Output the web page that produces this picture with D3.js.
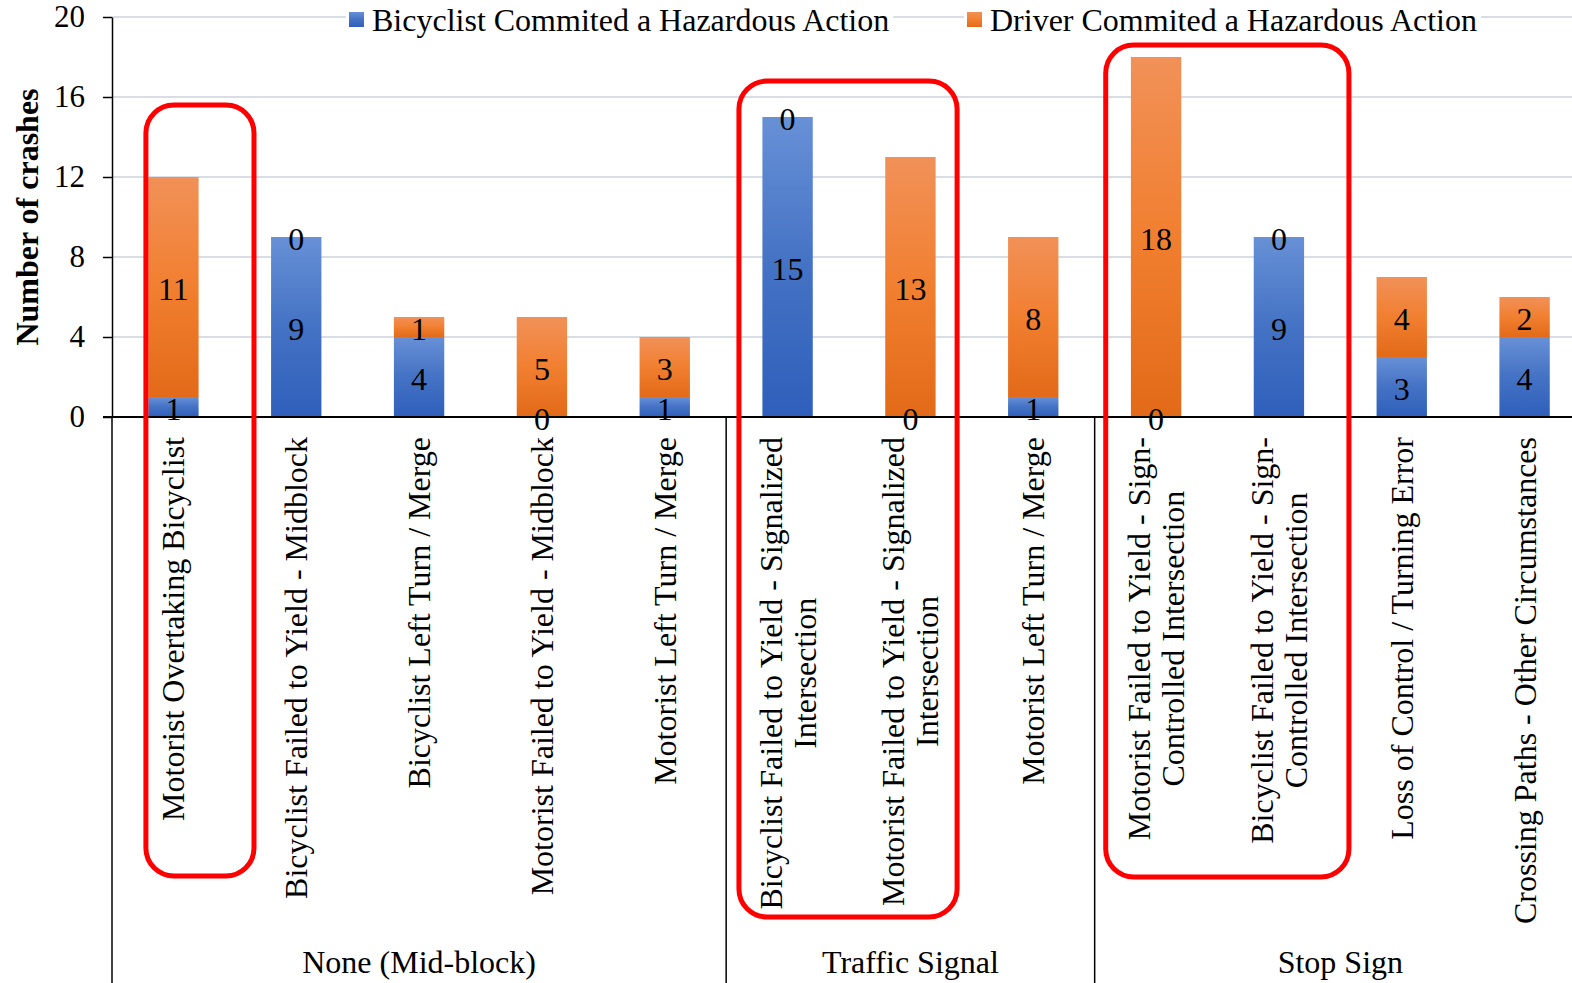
<!DOCTYPE html>
<html>
<head>
<meta charset="utf-8">
<script src="https://cdn.jsdelivr.net/npm/d3@7"></script>
<style>
  body { margin: 0; background: #fff; }
  svg { display: block; }
  text { font-family: "Liberation Serif", "Times New Roman", serif; fill: #000; }
</style>
</head>
<body>
<svg id="chart" width="1572" height="983"></svg>
<script>
// ---- data ----
const categories = [
  "Motorist Overtaking Bicyclist",
  "Bicyclist Failed to Yield - Midblock",
  "Bicyclist Left Turn / Merge",
  "Motorist Failed to Yield - Midblock",
  "Motorist Left Turn / Merge",
  "Bicyclist Failed to Yield - Signalized\nIntersection",
  "Motorist Failed to Yield - Signalized\nIntersection",
  "Motorist Left Turn / Merge",
  "Motorist Failed to Yield - Sign-\nControlled Intersection",
  "Bicyclist Failed to Yield - Sign-\nControlled Intersection",
  "Loss of Control / Turning Error",
  "Crossing Paths - Other Circumstances"
];
const groupNames = ["None (Mid-block)", "Traffic Signal", "Stop Sign"];
const groupSizes = [5, 3, 4];
const bicyclistValues = [1, 9, 4, 0, 1, 15, 0, 1, 0, 9, 3, 4];
const driverValues = [11, 0, 1, 5, 3, 0, 13, 8, 18, 0, 4, 2];
const seriesNames = ["Bicyclist Commited a Hazardous Action", "Driver Commited a Hazardous Action"];
const yTickValues = [0, 4, 8, 12, 16, 20];
const yTitle = "Number of crashes";

// ---- layout ----
const W = 1572, H = 983;
const plot = { left: 112, right: 1586, top: 17, bottom: 417 };
const fontSize = 32;
const tickFontSize = 31;

const svg = d3.select("#chart");

const x = d3.scaleBand()
  .domain(d3.range(categories.length))
  .range([plot.left, plot.right])
  .paddingInner(0.59)
  .paddingOuter(0.295);
const step = x.step();
const cx = i => x(i) + x.bandwidth() / 2;

const y = d3.scaleLinear().domain([0, 20]).range([plot.bottom, plot.top]);

// gradients: lighter at the top of each segment
const defs = svg.append("defs");
const gradients = [
  { id: "gradBike", stops: ["#6790d6", "#4472c4", "#2f5fbb"] },
  { id: "gradDriver", stops: ["#f19158", "#f17f30", "#e26a18"] }
];
gradients.forEach(g => {
  const lg = defs.append("linearGradient")
    .attr("id", g.id).attr("x1", 0).attr("y1", 0).attr("x2", 0).attr("y2", 1);
  g.stops.forEach((c, k) => lg.append("stop")
    .attr("offset", (k / (g.stops.length - 1)) * 100 + "%")
    .attr("stop-color", c));
});
const fills = ["url(#gradBike)", "url(#gradDriver)"];

// horizontal gridlines
svg.append("g").selectAll("line")
  .data(yTickValues.filter(v => v > 0))
  .join("line")
  .attr("x1", plot.left).attr("x2", W)
  .attr("y1", d => y(d)).attr("y2", d => y(d))
  .attr("stroke", "#d9dee6").attr("stroke-width", 2);

// y axis
const yAxis = svg.append("g")
  .attr("transform", `translate(${plot.left},0)`)
  .call(d3.axisLeft(y).tickValues(yTickValues).tickSize(9).tickSizeOuter(0).tickPadding(18).tickFormat(d3.format("d")));
yAxis.select(".domain").attr("stroke", "#000").attr("stroke-width", 1.5);
yAxis.selectAll(".tick line").attr("stroke", "#000").attr("stroke-width", 1.5);
yAxis.selectAll(".tick text")
  .attr("font-size", tickFontSize)
  .attr("font-family", "Liberation Serif, Times New Roman, serif")
  .attr("fill", "#000");

// y axis title
svg.append("text")
  .attr("transform", `translate(27,${(plot.top + plot.bottom) / 2}) rotate(-90)`)
  .attr("text-anchor", "middle")
  .attr("dominant-baseline", "central")
  .attr("font-size", fontSize)
  .attr("font-weight", "bold")
  .text(yTitle);

// stacked bars
const rows = categories.map((c, i) => ({ i, bike: bicyclistValues[i], driver: driverValues[i] }));
const stacked = d3.stack().keys(["bike", "driver"])(rows);

svg.append("g").selectAll("g")
  .data(stacked)
  .join("g")
  .attr("fill", (d, k) => fills[k])
  .selectAll("rect")
  .data(d => d)
  .join("rect")
  .attr("x", d => x(d.data.i))
  .attr("width", x.bandwidth())
  .attr("y", d => y(d[1]))
  .attr("height", d => y(d[0]) - y(d[1]));

// value labels centred in each segment
svg.append("g").selectAll("g")
  .data(stacked)
  .join("g")
  .selectAll("text")
  .data(d => d.map(s => ({ s, key: d.key })))
  .join("text")
  .attr("x", d => cx(d.s.data.i))
  .attr("y", d => y((d.s[0] + d.s[1]) / 2) + 2)
  .attr("text-anchor", "middle")
  .attr("dominant-baseline", "central")
  .attr("font-size", fontSize)
  .text(d => d.s.data[d.key]);

// baseline
svg.append("line")
  .attr("x1", plot.left - 9).attr("x2", W)
  .attr("y1", y(0)).attr("y2", y(0))
  .attr("stroke", "#000").attr("stroke-width", 2);

// category labels, rotated, top-aligned under the axis
const labelTop = y(0) + 20;
const lineGap = 34;
const catG = svg.append("g").selectAll("g")
  .data(categories)
  .join("g")
  .attr("transform", (d, i) => `translate(${cx(i)},${labelTop}) rotate(-90)`);
catG.each(function (d) {
  const g = d3.select(this);
  const lines = d.split("\n");
  const texts = lines.map((ln, k) => g.append("text")
    .attr("font-size", fontSize)
    .attr("text-anchor", "middle")
    .attr("y", 11 + (k - (lines.length - 1) / 2) * lineGap)
    .text(ln));
  const maxW = d3.max(texts, t => t.node().getComputedTextLength());
  texts.forEach(t => t.attr("x", -maxW / 2));
});

// group separators and group labels
let start = 0;
const bounds = [plot.left];
groupSizes.forEach(n => { start += n; bounds.push(plot.left + start * step); });
svg.append("g").selectAll("line")
  .data(bounds.slice(0, -1))
  .join("line")
  .attr("x1", d => d).attr("x2", d => d)
  .attr("y1", y(0)).attr("y2", H)
  .attr("stroke", "#000").attr("stroke-width", 1.5);
svg.append("g").selectAll("text")
  .data(groupNames)
  .join("text")
  .attr("x", (d, k) => (bounds[k] + bounds[k + 1]) / 2)
  .attr("y", 973)
  .attr("text-anchor", "middle")
  .attr("font-size", fontSize)
  .text(d => d);

// legend
const legendItems = [
  { name: seriesNames[0], fill: fills[0], x: 349 },
  { name: seriesNames[1], fill: fills[1], x: 967 }
];
const lg = svg.append("g").selectAll("g")
  .data(legendItems)
  .join("g")
  .attr("transform", d => `translate(${d.x},12)`);
lg.append("rect").attr("class", "bg").attr("fill", "#fff");
lg.append("rect").attr("width", 15).attr("height", 15).attr("fill", d => d.fill);
lg.append("text")
  .attr("x", 23).attr("y", 8)
  .attr("dominant-baseline", "central")
  .attr("font-size", fontSize)
  .text(d => d.name);
lg.each(function () {
  const g = d3.select(this);
  const tw = g.select("text").node().getComputedTextLength();
  g.select("rect.bg").attr("x", -3).attr("y", -6).attr("width", tw + 30).attr("height", 28);
});

// highlight boxes around selected categories
const highlights = [
  { from: 0, to: 0, left: -0.224, right: 0.656, top: 15.6, bottom: -22.95 },
  { from: 5, to: 6, left: -0.396, right: 0.38, top: 16.8, bottom: -25.0 },
  { from: 8, to: 9, left: -0.41, right: 0.57, top: 18.6, bottom: -23.0 }
];
svg.append("g").selectAll("rect")
  .data(highlights)
  .join("rect")
  .attr("x", d => cx(d.from) + d.left * step)
  .attr("width", d => cx(d.to) + d.right * step - (cx(d.from) + d.left * step))
  .attr("y", d => y(d.top))
  .attr("height", d => y(d.bottom) - y(d.top))
  .attr("rx", 28).attr("ry", 28)
  .attr("fill", "none")
  .attr("stroke", "#ff0000")
  .attr("stroke-width", 5);
</script>
</body>
</html>
